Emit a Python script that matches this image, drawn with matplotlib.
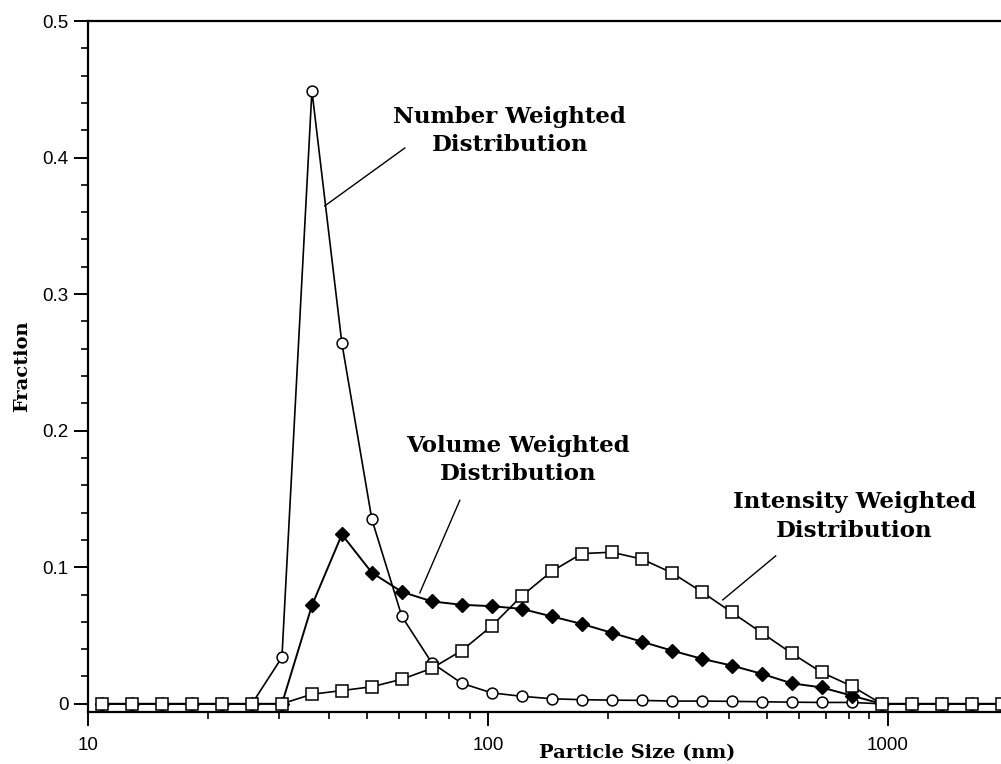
import numpy as np
import matplotlib
matplotlib.use("Agg")
import matplotlib.pyplot as plt
from matplotlib.ticker import MultipleLocator, FixedLocator, NullFormatter

# particle size grid (nm), log-spaced
size_nm = [10.84, 12.88, 15.31, 18.20, 21.63, 25.70, 30.55, 36.31, 43.15, 51.29,
           60.95, 72.44, 86.10, 102.3, 121.6, 144.5, 171.8, 204.2, 242.7, 288.4,
           342.8, 407.4, 484.2, 575.4, 683.9, 812.8, 966.1, 1148, 1365, 1622, 1928]

number_w = [0, 0, 0, 0, 0, 0, 0.034, 0.449, 0.264, 0.135,
            0.064, 0.030, 0.015, 0.008, 0.0055, 0.0037, 0.003, 0.0027, 0.0025, 0.002,
            0.002, 0.0018, 0.0015, 0.0012, 0.001, 0.001, 0, 0, 0, 0, 0]

volume_w = [0, 0, 0, 0, 0, 0, 0, 0.072, 0.124, 0.096,
            0.082, 0.075, 0.0725, 0.0715, 0.0695, 0.064, 0.0585, 0.052, 0.0455, 0.039,
            0.033, 0.028, 0.022, 0.015, 0.012, 0.006, 0, 0, 0, 0, 0]

intensity_w = [0, 0, 0, 0, 0, 0, 0, 0.007, 0.0097, 0.0125,
               0.018, 0.026, 0.039, 0.057, 0.079, 0.097, 0.110, 0.111, 0.106, 0.096,
               0.082, 0.067, 0.052, 0.037, 0.023, 0.013, 0, 0, 0, 0, 0]

serif = ["DejaVu Serif"]
sans = ["Liberation Sans", "DejaVu Sans"]

fig = plt.figure(figsize=(10.01, 7.64), dpi=100)
ax = fig.add_axes([88 / 1001, 1 - 712 / 764, 920 / 1001, 691 / 764])

ax.plot(size_nm, number_w, "-o", color="k", lw=1.2, ms=7.8, mfc="white", mec="k", mew=1.1, zorder=3)
ax.plot(size_nm, volume_w, "-D", color="k", lw=1.4, ms=7, mfc="k", mec="k", zorder=4)
ax.plot(size_nm, intensity_w, "-s", color="k", lw=1.2, ms=8.3, mfc="white", mec="k", mew=1.1, zorder=5)

ax.set_xscale("log")
ax.set_xlim(10, 2000)
ax.set_ylim(-0.006, 0.5)

ax.xaxis.set_major_locator(FixedLocator([10, 100, 1000]))
ax.set_xticklabels(["10", "100", "1000"])
ax.xaxis.set_minor_locator(FixedLocator([m * d for d in (10, 100, 1000) for m in range(2, 10)]))
ax.xaxis.set_minor_formatter(NullFormatter())
ax.yaxis.set_major_locator(FixedLocator([0, 0.1, 0.2, 0.3, 0.4, 0.5]))
ax.set_yticklabels(["0", "0.1", "0.2", "0.3", "0.4", "0.5"])
ax.yaxis.set_minor_locator(MultipleLocator(0.02))

ax.tick_params(which="major", direction="out", length=10, width=1.4, labelsize=13.5, pad=4)
ax.tick_params(axis="x", which="major", pad=8)
ax.tick_params(which="minor", direction="out", length=5, width=1.2)
for lab in ax.get_xticklabels() + ax.get_yticklabels():
    lab.set_family(sans)
for s in ("left", "bottom", "top"):
    ax.spines[s].set_linewidth(1.6)
ax.spines["right"].set_visible(False)

ax.set_xlabel("Particle Size (nm)", family=serif, fontweight="bold", fontsize=14)
ax.xaxis.set_label_coords(549 / 920, -32 / 691)
ax.set_ylabel("Fraction", family=serif, fontweight="bold", fontsize=14)
ax.yaxis.set_label_coords(-57 / 920, 0.5)

# curve labels with leader lines (data coords)
def label(text, xy_text, line_from, line_to):
    ax.text(*xy_text, text, ha="center", va="center", family=serif,
            fontweight="bold", fontsize=16.5, linespacing=1.4)
    ax.plot([line_from[0], line_to[0]], [line_from[1], line_to[1]], color="k", lw=1.0)

label("Number Weighted\nDistribution", (113.5, 0.4195), (39.1, 0.3646), (62.0, 0.407))
label("Volume Weighted\nDistribution", (118.9, 0.1786), (67.6, 0.0813), (85.1, 0.149))
label("Intensity Weighted\nDistribution", (827, 0.1369), (386.9, 0.0761), (524.8, 0.1083))

fig.savefig("out.png", dpi=100)
